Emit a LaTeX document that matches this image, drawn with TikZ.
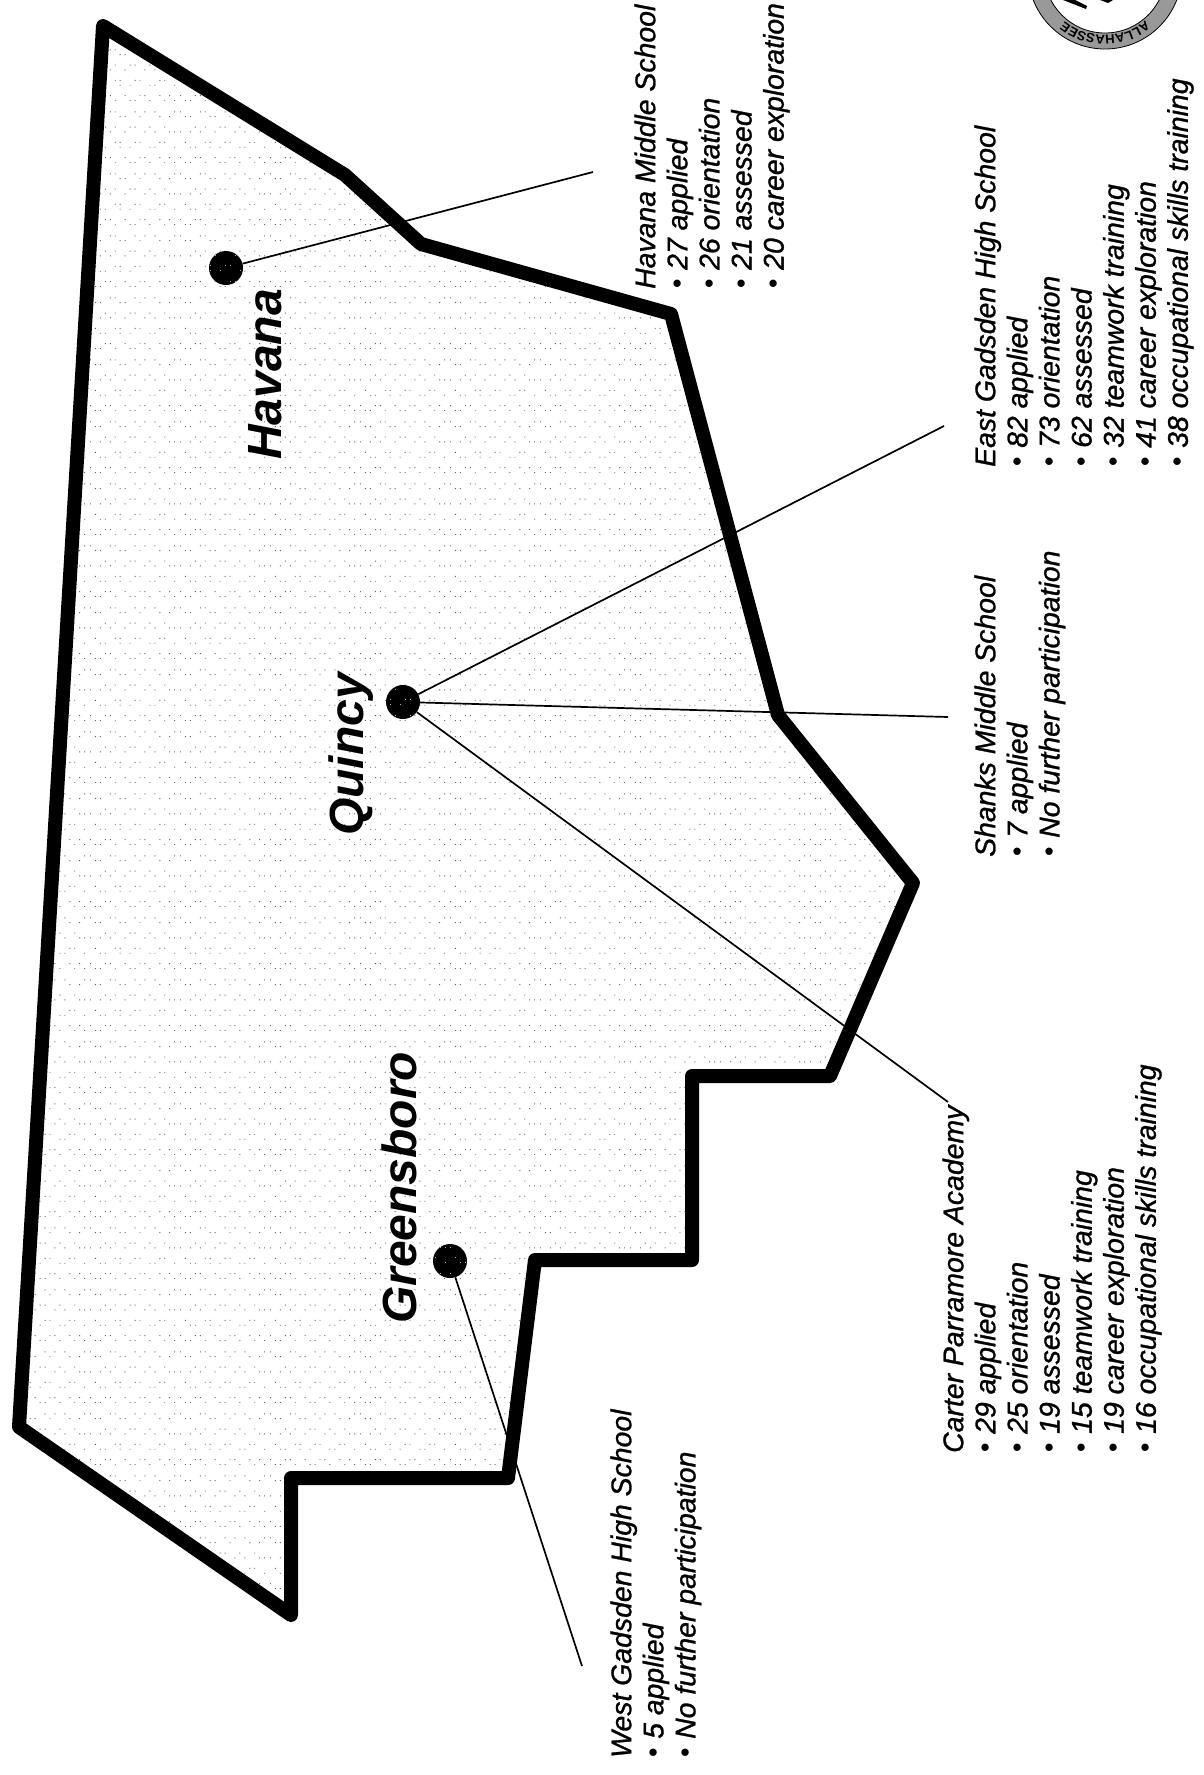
\documentclass[tikz,border=0pt]{standalone}
\usepackage{fontspec}
\setmainfont{Liberation Sans}
\newfontfamily\schoolfont{Liberation Sans}[ItalicFeatures={FakeBold=1}]
\usetikzlibrary{patterns,decorations.text}
\pgfdeclarepatternformonly{stipple}{\pgfpointorigin}{\pgfpoint{90pt}{62pt}}{\pgfpoint{90pt}{62pt}}{
  \foreach \py/\xs in {0/{5,10,25,40,45,60,75,85},5/{0,15,20,35,50,55,70,80},15.5/{10,15,30,40,60,65,85},20.5/{5,25,30,45,50,70,75},31/{0,10,20,35,55,65,80,85},36/{15,25,40,45,60,75},46.5/{5,10,30,35,50,70,80},51.5/{0,20,25,45,55,65,85}}{
    \foreach \px in \xs {
      \pgfpathrectangle{\pgfpoint{\px pt}{\py pt}}{\pgfpoint{1pt}{1pt}}\pgfusepath{fill}
    }
  }
}
\newcommand{\bul}{\makebox[19pt][l]{\raisebox{1pt}{\fontsize{27}{27}\selectfont\upshape •}}}
\newcommand{\fl}{\rule{0pt}{22pt}}
\tikzset{
  region/.style={line width=14pt,line join=round,line cap=round,draw=black},
  towndot/.style={circle,fill=black,minimum size=34pt,inner sep=0pt,postaction={pattern=stipple,pattern color=white!70!black}},
  leader/.style={line width=1.7pt,draw=black},
  school/.style={rotate=90,anchor=north west,inner sep=0pt,align=left,font=\fontsize{28.4}{32.1}\schoolfont\itshape},
  town/.style={rotate=90,anchor=base west,inner sep=0pt,font=\fontsize{48}{52}\selectfont\bfseries\itshape},
}
\begin{document}
\begin{tikzpicture}[x=1pt,y=-1pt]
\useasboundingbox (0,0) rectangle (1204,1775);
\fill[white] (0,0) rectangle (1204,1775);
% county
\path[pattern=stipple,pattern color=black!60] (103,26) -- (345,175) -- (421,244) -- (671,314) -- (778,715) -- (913,883) -- (830,1076) -- (692,1076) -- (692,1260) -- (535,1260) -- (508,1478) -- (291,1478) -- (291,1615) -- (19,1427) -- cycle;
\draw[region] (103,26) -- (345,175) -- (421,244) -- (671,314) -- (778,715) -- (913,883) -- (830,1076) -- (692,1076) -- (692,1260) -- (535,1260) -- (508,1478) -- (291,1478) -- (291,1615) -- (19,1427) -- cycle;
% towns
\node[towndot] (dh) at (226,268) {};
\node[towndot] (dq) at (403,702) {};
\node[towndot] (dg) at (450,1261) {};
\coordinate (eh) at (593,172);
\coordinate (ee) at (944,426);
\coordinate (es) at (948,717);
\coordinate (ec) at (948,1102);
\coordinate (ew) at (582,1666);
\draw[leader] (dh) -- (eh);
\draw[leader] (dq) -- (ee);
\draw[leader] (dq) -- (es);
\draw[leader] (dq) -- (ec);
\draw[leader] (dg) -- (ew);
\node[town] (havana) at (281,460) {Havana};
\node[town] (quincy) at (363,836) {Quincy};
\node[town] (greensboro) at (416,1324) {Greensboro};
% schools
\node[school] (s1) at (633,289) {\fl Havana Middle School\\\bul 27 applied\\\bul 26 orientation\\\bul 21 assessed\\\bul 20 career exploration};
\node[school] (s2) at (973,467) {\fl East Gadsden High School\\\bul 82 applied\\\bul 73 orientation\\\bul 62 assessed\\\bul 32 teamwork training\\\bul 41 career exploration\\\bul 38 occupational skills training};
\node[school] (s3) at (973,857) {\fl Shanks Middle School\\\bul 7 applied\\\bul No further participation};
\node[school] (s4) at (941,1453) {\fl Carter Parramore Academy\\\bul 29 applied\\\bul 25 orientation\\\bul 19 assessed\\\bul 15 teamwork training\\\bul 19 career exploration\\\bul 16 occupational skills training};
\node[school] (s5) at (609,1758) {\fl West Gadsden High School\\\bul 5 applied\\\bul No further participation};
% seal
\coordinate (sealc) at (1105,-28);
\fill[even odd rule,black!40,draw=black,line width=0.8pt] (sealc) circle (77) (sealc) circle (61);
\path[decorate,decoration={text along path,text={|\fontsize{13}{13}\selectfont\bfseries|ALLAHASSEE},text align=center}] (1105+63.5,-28) arc[start angle=0,end angle=180,radius=63.5];
\fill[black] (1063,0) -- (1086,9) -- (1087,6) -- (1075,0) -- cycle;
\fill[black] (1100,0) -- (1113,0) -- (1108,3) -- cycle;
\end{tikzpicture}
\end{document}
